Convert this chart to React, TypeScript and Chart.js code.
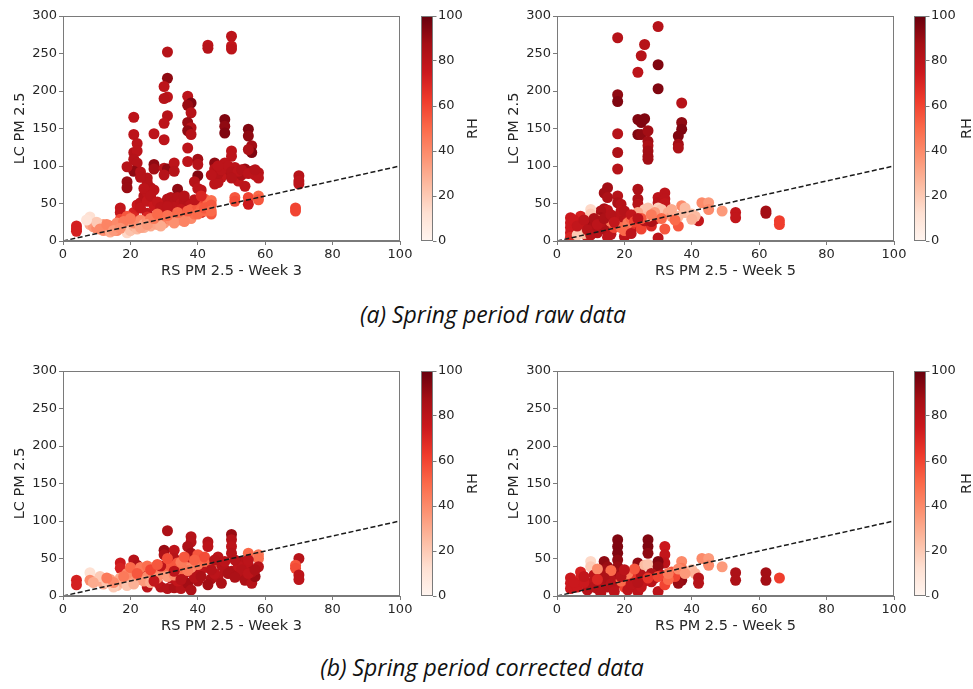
import React, { useEffect, useRef } from "react";
import { Chart, registerables } from "chart.js";

Chart.register(...registerables);

// ---------- axis / tick values ----------
const xTicks = [0, 20, 40, 60, 80, 100];
const yTicks = [0, 50, 100, 150, 200, 250, 300];
const rhTicks = [0, 20, 40, 60, 80, 100];
const identityLine = [0, 100];

// ---------- (a) raw data, week 3 ----------
const w3RawX = [50,50,50,43,43,31,31,30,31,30,31,30,30,21,21,27,22,21,22,21,22,21,23,19,19,19,27,27,30,31,30,33,33,37,38,37,38,37,38,37,38,37,37,40,40,40,39,40,41,48,48,48,50,50,45,45,45,48,49,48,47,46,51,51,52,55,55,56,56,55,54,56,58,54,58,53,57,70,70,70,69,69,51,51,55,55,58,58,
  4,4,4,17,17,17,21,21,22,23,23,24,25,25,25,25,26,27,25,25,27,30,31,30,32,33,34,34,35,36,37,38,37,39,40,41,40,42,42,44,43,44,
  8,8,9,10,11,12,13,14,15,16,17,18,19,19,19,20,20,21,22,22,23,24,25,26,26,27,28,28,29,30,30,31,32,32,33,34,35,35,36,37,38,38,39,40,41,42,43,44,12,14,16,18,24,29,33,36,10,7,
  46,47,49,50,52,53,55,57,44,46,50,24,23,26,28,29,33,35,36,31,39,41,43,
  11,13,15,17,21,23,25,27,31,34,37,40,42,44,20,28];
const w3RawY = [273,260,256,261,257,252,217,206,192,190,167,157,135,165,142,143,130,118,120,109,104,93,92,99,79,71,102,96,97,96,88,104,93,193,184,181,171,158,151,147,142,124,106,109,102,87,79,70,68,162,153,144,120,113,104,96,76,104,95,90,85,78,98,87,80,149,140,127,118,122,96,93,91,73,84,88,88,87,80,76,44,40,58,53,58,49,60,55,
  20,16,13,44,38,29,38,31,48,51,44,60,84,78,64,53,71,68,37,32,47,50,56,44,58,52,69,58,50,53,46,49,38,44,40,38,52,56,47,36,50,54,
  32,22,19,17,20,14,16,20,18,14,21,17,11,22,33,14,26,20,24,16,28,22,26,20,30,25,32,22,28,35,24,30,28,38,34,30,40,28,36,32,42,30,36,45,42,40,44,48,22,12,24,26,18,20,24,26,25,28,
  90,95,100,92,93,95,90,95,88,100,84,70,85,60,52,45,45,42,60,46,55,60,45,
  16,22,14,17,24,18,22,30,34,38,40,36,44,40,30,36];
const w3RawRH = [80,78,80,80,82,82,92,80,80,82,82,80,80,80,80,80,80,82,80,82,82,92,82,82,90,90,92,88,82,92,82,80,82,80,95,90,82,90,82,92,82,80,80,88,82,95,82,80,80,95,92,95,80,80,92,82,80,80,82,85,78,80,80,80,78,95,92,88,95,85,90,88,82,80,80,85,80,82,80,80,60,60,55,58,60,75,50,55,
  72,72,72,78,78,60,72,70,76,80,78,82,82,82,80,78,82,80,78,70,76,80,82,80,82,82,92,82,80,82,82,80,78,80,70,72,74,55,60,55,50,48,
  12,30,35,40,45,38,45,50,42,40,40,30,15,30,55,22,35,28,42,25,40,30,38,30,45,35,48,32,40,50,35,45,40,55,48,42,55,40,50,45,52,40,48,55,52,50,50,55,35,30,40,45,28,30,38,42,20,10,
  82,80,80,82,80,82,80,82,80,80,82,80,82,80,78,80,80,78,82,80,80,70,55,
  40,42,35,38,40,32,35,45,48,50,52,50,55,50,45,50];

// ---------- (a) raw data, week 5 ----------
const w5RawX = [18,30,26,25,24,30,30,18,18,37,24,25,26,24,25,27,27,27,27,27,27,37,37,36,36,36,18,18,18,
  15,14,15,14,15,18,18,19,24,24,24,24,30,30,32,32,32,
  4,4,4,4,4,7,7,7,10,10,13,13,15,15,18,20,21,23,23,30,20,21,12,14,16,9,11,13,17,22,25,28,29,32,36,42,53,53,62,62,66,66,26,28,
  10,10,8,6,12,16,19,21,22,26,27,27,30,31,33,34,37,36,38,40,41,40,43,45,45,49,20,24,29,35,
  5,6,8,9,11,12,14,16,17,19,20,22,23,25,28,31,34,38,10,15,22,24];
const w5RawY = [271,286,262,247,225,235,203,195,186,184,162,158,163,142,142,147,133,127,120,113,109,158,149,140,129,124,143,118,96,
  71,64,58,43,41,60,51,49,69,56,49,36,58,51,64,56,50,
  31,24,18,11,5,33,20,12,33,24,40,31,31,22,33,29,33,33,20,4,6,11,11,16,9,6,20,25,18,22,16,20,29,16,20,27,38,31,40,37,27,22,27,26,
  42,36,10,8,28,26,18,24,30,42,44,33,44,42,38,33,47,33,38,36,33,29,51,51,42,40,14,38,38,28,
  28,20,28,15,30,22,30,35,25,40,40,35,26,30,35,30,42,44,8,5,10,30];
const w5RawRH = [82,82,82,82,80,95,95,92,95,82,95,95,95,95,92,88,88,85,88,88,88,92,95,95,88,85,82,85,82,
  88,88,85,85,80,82,85,82,85,85,82,82,80,82,80,80,78,
  75,75,75,75,70,72,75,70,85,88,85,88,80,82,80,82,80,82,80,80,80,78,82,85,80,80,85,82,60,65,60,70,78,55,55,78,78,78,88,88,62,62,82,85,
  15,20,25,20,40,45,50,45,50,20,22,25,18,22,30,35,40,25,25,22,25,28,40,35,40,35,50,30,35,50,
  75,78,80,82,85,80,85,82,78,80,82,78,60,55,45,50,30,25,82,80,80,80];

// ---------- (b) corrected data, week 3 ----------
const w3CorX = [4,4,8,8,17,17,21,22,31,30,30,33,33,38,38,37,38,43,43,50,50,50,50,55,58,58,70,69,69,70,70,
  29,31,33,35,37,38,25,44,46,47,52,54,56,57,58,53,55,47,48,45,40,42,36,32,28,34,40,50,52,56,44,38,36,31,24,20,22,12,14,16,20,27,41,46,51,39,43,30,
  10,12,14,16,18,20,23,25,27,29,32,34,36,38,40,42,19,20,23,25,27,30,32,34,35,40,42,11,13,15,17,19,21,24,26,28,31,33,37,9,22,35,44,39,
  45,48,49,53,55,57,55,51,44,41,35,33,29,27,26,28,31,36,22,18,15,13];
const w3CorY = [21,15,31,21,44,37,48,41,87,61,55,61,50,79,72,66,57,72,66,82,75,66,57,57,55,50,50,41,37,28,22,
  12,10,11,10,17,8,12,23,26,17,28,21,17,26,39,46,41,41,35,30,30,38,30,24,18,20,20,33,40,32,45,44,48,42,28,28,35,22,20,15,18,32,52,52,48,25,15,30,
  20,16,22,14,18,20,22,26,28,32,35,36,40,38,42,46,30,38,38,40,38,40,40,44,36,55,52,26,18,12,24,14,16,20,18,24,26,28,34,18,28,45,42,48,
  48,46,30,35,30,35,48,25,35,26,22,33,40,20,35,42,50,52,30,26,18,24];
const w3CorRH = [72,72,12,40,75,72,82,85,85,90,85,80,82,82,82,85,88,82,80,90,82,80,82,50,45,48,82,55,58,80,80,
  82,82,85,82,88,85,80,85,82,85,82,85,82,90,82,82,80,82,82,80,82,80,80,80,80,78,85,85,80,85,82,88,78,82,78,80,78,70,75,72,75,78,82,80,82,82,88,82,
  25,30,35,25,30,35,40,40,45,40,45,40,45,40,45,50,40,50,45,48,45,50,55,55,50,55,58,20,22,20,30,22,28,35,30,38,35,40,45,30,38,45,50,52,
  82,80,85,82,80,85,80,85,82,85,82,80,80,78,60,55,58,55,55,45,40,45];

// ---------- (b) corrected data, week 5 ----------
const w5CorX = [18,18,18,18,18,18,27,27,27,32,32,32,14,15,14,15,10,10,7,7,4,4,4,24,24,24,26,27,30,30,37,37,40,41,43,45,45,49,37,36,42,42,53,53,62,62,66,30,24,32,28,20,22,13,15,12,10,9,6,20,21,11,13,16,17,19,23,25,26,28,29,31,34,35,33,8,12,16,21,23,
  5,8,11,14,16,19,22,25,27,30,33,36,38,12,20,24,17,13];
const w5CorY = [75,66,57,48,39,30,75,66,57,66,55,44,46,39,35,30,46,39,32,24,24,17,10,44,35,26,41,42,46,39,46,37,35,30,50,50,41,39,21,17,24,17,31,21,31,21,24,6,6,15,19,26,21,17,12,10,17,8,12,12,8,28,26,22,14,20,30,28,20,30,24,28,32,26,22,18,36,34,30,36,
  18,26,12,24,16,26,16,12,24,26,30,36,30,22,35,18,6,4];
const w5CorRH = [95,95,95,92,90,88,95,95,92,75,78,80,92,90,88,85,15,20,72,72,75,75,75,92,90,88,25,22,95,92,40,45,25,28,40,35,40,35,92,90,82,82,85,85,88,88,62,80,80,60,80,55,60,82,82,80,80,82,75,60,80,80,85,82,80,50,65,82,78,85,82,80,55,60,50,75,40,50,45,55,
  75,78,82,85,82,82,80,78,65,60,45,40,35,70,80,82,80,82];

// ---------- matplotlib "Reds" colormap ----------
const REDS = [
  [255, 245, 240], [254, 224, 210], [252, 187, 161], [252, 146, 114],
  [251, 106, 74], [239, 59, 44], [203, 24, 29], [165, 15, 21], [103, 0, 13],
];
function reds(t: number): string {
  const c = Math.max(0, Math.min(1, t)) * (REDS.length - 1);
  const i = Math.min(REDS.length - 2, Math.floor(c));
  const f = c - i;
  const a = REDS[i], b = REDS[i + 1];
  const m = (k: number) => Math.round(a[k] + (b[k] - a[k]) * f);
  return `rgb(${m(0)},${m(1)},${m(2)})`;
}

const FONT = "'DejaVu Sans', sans-serif";
const TEXT = "#262626";
const FRAME = "#7a7a7a";

const framePlugin = {
  id: "frame",
  afterDatasetsDraw(chart: any) {
    const { ctx, chartArea: a } = chart;
    ctx.save();
    ctx.strokeStyle = FRAME;
    ctx.lineWidth = 1;
    ctx.strokeRect(Math.round(a.left) + 0.5, Math.round(a.top) + 0.5, Math.round(a.right - a.left) - 1, Math.round(a.bottom - a.top) - 1);
    ctx.restore();
  },
};

const PW = 439;
const PH = 280;

function ScatterPanel(props: { left: number; top: number; xs: number[]; ys: number[]; rh: number[]; xLabel: string }) {
  const ref = useRef<HTMLCanvasElement>(null);
  useEffect(() => {
    const { xs, ys, rh, xLabel } = props;
    const pts = xs.map((x, i) => ({ x, y: ys[i] }));
    const colors = rh.map((v) => reds(v / 100));
    const chart = new Chart(ref.current as HTMLCanvasElement, {
      type: "scatter",
      data: {
        datasets: [
          {
            data: identityLine.map((v) => ({ x: v, y: v })),
            showLine: true,
            borderColor: "#1a1a1a",
            borderWidth: 1.5,
            borderDash: [5, 2.5],
            pointRadius: 0,
            order: 0,
          } as any,
          {
            data: pts,
            backgroundColor: colors,
            borderWidth: 0,
            pointRadius: 5.5,
            order: 1,
            clip: 0,
          } as any,
        ],
      },
      options: {
        animation: false,
        responsive: false,
        maintainAspectRatio: false,
        events: [],
        layout: { padding: { top: 16, right: 39, left: 0, bottom: 0 } },
        plugins: { legend: { display: false }, tooltip: { enabled: false } },
        scales: {
          x: {
            type: "linear",
            min: 0,
            max: 100,
            afterBuildTicks: (s: any) => { s.ticks = xTicks.map((v) => ({ value: v })); },
            afterFit: (s: any) => { s.height = 39; },
            ticks: { color: TEXT, font: { family: FONT, size: 13 }, padding: 2, maxRotation: 0 },
            grid: { drawOnChartArea: false, tickLength: 4, color: FRAME },
            border: { color: FRAME },
            title: { display: true, text: xLabel, color: TEXT, font: { family: FONT, size: 14.5 }, padding: { top: 4, bottom: 0 } },
          },
          y: {
            type: "linear",
            min: 0,
            max: 300,
            afterBuildTicks: (s: any) => { s.ticks = yTicks.map((v) => ({ value: v })); },
            afterFit: (s: any) => { s.width = 63; },
            ticks: { color: TEXT, font: { family: FONT, size: 13 }, padding: 2 },
            grid: { drawOnChartArea: false, tickLength: 4, color: FRAME },
            border: { color: FRAME },
            title: { display: true, text: "LC PM 2.5", color: TEXT, font: { family: FONT, size: 14.5 }, padding: { top: 12, bottom: 0 } },
          },
        },
      } as any,
      plugins: [framePlugin],
    });
    return () => chart.destroy();
  }, []);
  return (
    <canvas
      ref={ref}
      width={PW}
      height={PH}
      style={{ position: "absolute", left: props.left, top: props.top, width: PW, height: PH }}
    />
  );
}

const CBW = 66;

function ColorBar(props: { left: number; top: number; labelX: number }) {
  const ref = useRef<HTMLCanvasElement>(null);
  useEffect(() => {
    const barPlugin = {
      id: "bar",
      beforeDatasetsDraw(chart: any) {
        const { ctx, chartArea: a } = chart;
        const g = ctx.createLinearGradient(0, a.bottom, 0, a.top);
        REDS.forEach((_, i) => g.addColorStop(i / (REDS.length - 1), reds(i / (REDS.length - 1))));
        ctx.save();
        ctx.fillStyle = g;
        ctx.fillRect(a.left, a.top, a.right - a.left, a.bottom - a.top);
        ctx.strokeStyle = FRAME;
        ctx.lineWidth = 1;
        ctx.strokeRect(Math.round(a.left) + 0.5, Math.round(a.top) + 0.5, Math.round(a.right - a.left) - 1, Math.round(a.bottom - a.top) - 1);
        ctx.fillStyle = TEXT;
        ctx.font = `14.5px ${FONT}`;
        ctx.textAlign = "center";
        ctx.textBaseline = "middle";
        ctx.translate(props.labelX, (a.top + a.bottom) / 2);
        ctx.rotate(-Math.PI / 2);
        ctx.fillText("RH", 0, 0);
        ctx.restore();
      },
    };
    const chart = new Chart(ref.current as HTMLCanvasElement, {
      type: "scatter",
      data: { datasets: [{ data: [] }] },
      options: {
        animation: false,
        responsive: false,
        maintainAspectRatio: false,
        events: [],
        layout: { padding: { top: 16, right: 0, left: 2, bottom: 39 } },
        plugins: { legend: { display: false }, tooltip: { enabled: false } },
        scales: {
          x: { display: false, min: 0, max: 1 },
          y: {
            type: "linear",
            position: "right",
            min: 0,
            max: 100,
            afterBuildTicks: (s: any) => { s.ticks = rhTicks.map((v) => ({ value: v })); },
            afterFit: (s: any) => { s.width = CBW - 2 - 12; },
            ticks: { color: TEXT, font: { family: FONT, size: 13 }, padding: 1.5 },
            grid: { drawOnChartArea: false, tickLength: 3.5, color: FRAME },
            border: { display: false },
          },
        },
      } as any,
      plugins: [barPlugin],
    });
    return () => chart.destroy();
  }, []);
  return (
    <canvas
      ref={ref}
      width={CBW}
      height={PH}
      style={{ position: "absolute", left: props.left, top: props.top, width: CBW, height: PH }}
    />
  );
}

const captionStyle: React.CSSProperties = {
  position: "absolute",
  width: 600,
  textAlign: "center",
  fontFamily: "'Open Sans', Lato, sans-serif",
  fontStyle: "italic",
  fontSize: 23,
  lineHeight: "24px",
  color: "#111",
  whiteSpace: "nowrap",
};

export default function App() {
  return (
    <div style={{ position: "absolute", left: 0, top: 0, width: 973, height: 689, overflow: "hidden", background: "#fff" }}>
      <ScatterPanel left={0} top={0} xs={w3RawX} ys={w3RawY} rh={w3RawRH} xLabel="RS PM 2.5 - Week 3" />
      <ColorBar left={419} top={0} labelX={54} />
      <ScatterPanel left={494} top={0} xs={w5RawX} ys={w5RawY} rh={w5RawRH} xLabel="RS PM 2.5 - Week 5" />
      <ColorBar left={912} top={0} labelX={55} />
      <div style={{ ...captionStyle, left: 193, top: 302 }}>(a) Spring period raw data</div>
      <ScatterPanel left={0} top={355} xs={w3CorX} ys={w3CorY} rh={w3CorRH} xLabel="RS PM 2.5 - Week 3" />
      <ColorBar left={419} top={355} labelX={54} />
      <ScatterPanel left={494} top={355} xs={w5CorX} ys={w5CorY} rh={w5CorRH} xLabel="RS PM 2.5 - Week 5" />
      <ColorBar left={912} top={355} labelX={55} />
      <div style={{ ...captionStyle, left: 182, top: 655 }}>(b) Spring period corrected data</div>
    </div>
  );
}
